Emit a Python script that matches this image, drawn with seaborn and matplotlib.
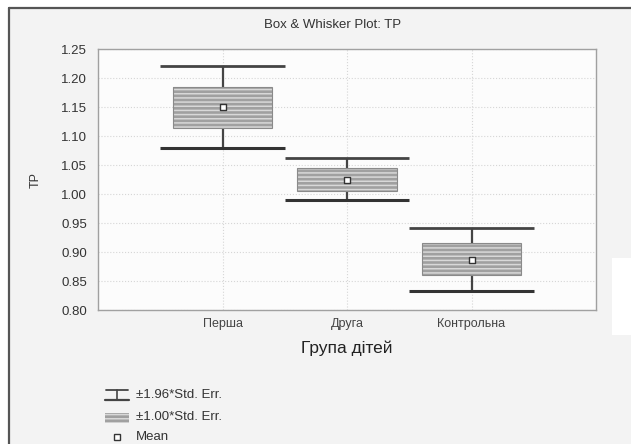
import matplotlib
matplotlib.use("Agg")
import matplotlib.pyplot as plt
import numpy as np
import pandas as pd
import seaborn as sns
from matplotlib.lines import Line2D
from matplotlib.patches import Rectangle

# values
groups = ["Перша", "Друга", "Контрольна"]
means = [1.150, 1.025, 0.887]
box_low = [1.114, 1.006, 0.860]     # mean - 1.00*Std. Err.
box_high = [1.184, 1.044, 0.915]    # mean + 1.00*Std. Err.
whisk_low = [1.080, 0.989, 0.832]   # mean - 1.96*Std. Err.
whisk_high = [1.220, 1.062, 0.942]  # mean + 1.96*Std. Err.
y_ticks = [0.80, 0.85, 0.90, 0.95, 1.00, 1.05, 1.10, 1.15, 1.20, 1.25]

df = pd.DataFrame({"group": groups, "mean": means,
                   "lo": box_low, "hi": box_high,
                   "wlo": whisk_low, "whi": whisk_high})
df["height"] = df["hi"] - df["lo"]

sns.set_style("white")
plt.rcParams["font.family"] = ["Liberation Sans", "DejaVu Sans"]
plt.rcParams["hatch.linewidth"] = 1.1

W, H = 631, 444
def fx(x):
    return x / W
def fy(y):
    return 1 - y / H

fig = plt.figure(figsize=(6.31, 4.44), dpi=100, facecolor="white")
# grey panel with dark left/top border
fig.patches.append(Rectangle((fx(9), 0), 1, fy(8), transform=fig.transFigure,
                             facecolor="#f3f3f3", edgecolor="none", zorder=-10))
fig.add_artist(Line2D([fx(9), 1], [fy(8), fy(8)], color="#555555", lw=1.6))
fig.add_artist(Line2D([fx(9), fx(9)], [0, fy(8)], color="#555555", lw=1.6))
fig.patches.append(Rectangle((fx(612), fy(335)), 1, (335 - 258) / H,
                             transform=fig.transFigure, facecolor="white",
                             edgecolor="none", zorder=-5))

ax = fig.add_axes([fx(98), fy(310), (596 - 98) / W, (310 - 49) / H])
ax.set_facecolor("#fcfcfc")

# +-1.00*SE boxes
sns.barplot(data=df, x="group", y="height", bottom=df["lo"], ax=ax,
            color="#a0a0a0", edgecolor="#d8d8d8", linewidth=0, hatch="----",
            width=0.8, errorbar=None, saturation=1, zorder=3)
ax.bar(np.arange(len(groups)), df["height"], bottom=df["lo"], width=0.8,
       fill=False, edgecolor="#8a8a8a", linewidth=0.8, zorder=4)

# +-1.96*SE whiskers
pos = np.arange(len(groups))
ax.vlines(pos, df["hi"], df["whi"], color="#444444", lw=1.6, zorder=3)
ax.vlines(pos, df["wlo"], df["lo"], color="#444444", lw=1.6, zorder=3)
ax.hlines(df["whi"], pos - 0.5, pos + 0.5, color="#444444", lw=2.0, zorder=3)
ax.hlines(df["wlo"], pos - 0.5, pos + 0.5, color="#333333", lw=2.2, zorder=3)

# means
sns.scatterplot(data=df, x="group", y="mean", ax=ax, marker="s", s=22,
                color="white", edgecolor="#333333", linewidth=1.0, zorder=5)

ax.set_xlim(-1, 3)
ax.set_ylim(0.80, 1.25)
ax.set_yticks(y_ticks)
ax.set_yticklabels([f"{v:.2f}" for v in y_ticks])
ax.grid(True, color="#d6d6d6", linestyle=":", linewidth=0.8, zorder=0)
ax.set_axisbelow(True)
for s in ax.spines.values():
    s.set_color("#a0a0a0")
    s.set_linewidth(1.0)
ax.tick_params(axis="y", length=0, pad=8, labelsize=9.5, labelcolor="#333333")
ax.tick_params(axis="x", length=0, pad=6, labelsize=9, labelcolor="#444444")
ax.set_xlabel("Група дітей", fontsize=12.5, color="#222222", labelpad=7)
ax.set_ylabel("TP", fontsize=9, color="#333333", labelpad=14)

fig.text(fx(333), fy(25), "Box & Whisker Plot: TP", ha="center", va="center",
         fontsize=9.5, color="#333333")

# legend drawn below the plot
lc = "#444444"
fig.add_artist(Line2D([fx(106), fx(128)], [fy(390), fy(390)], color=lc, lw=1.3))
fig.add_artist(Line2D([fx(105), fx(129)], [fy(400), fy(400)], color=lc, lw=1.6))
fig.add_artist(Line2D([fx(117), fx(117)], [fy(390), fy(400)], color=lc, lw=1.2))
fig.patches.append(Rectangle((fx(105), fy(423)), 24 / W, 10 / H,
                             transform=fig.transFigure, facecolor="#a0a0a0",
                             edgecolor="#d8d8d8", linewidth=0, hatch="----"))
fig.add_artist(Line2D([fx(117)], [fy(437)], marker="s", markersize=4.5,
                      markerfacecolor="white", markeredgecolor="#333333",
                      markeredgewidth=1.0, linestyle="none"))
for yy, txt in zip([395, 417, 437],
                   ["±1.96*Std. Err.", "±1.00*Std. Err.", "Mean"]):
    fig.text(fx(136), fy(yy), txt, ha="left", va="center", fontsize=9.5,
             color="#333333")

fig.savefig("out.png", dpi=100, facecolor=fig.get_facecolor())
